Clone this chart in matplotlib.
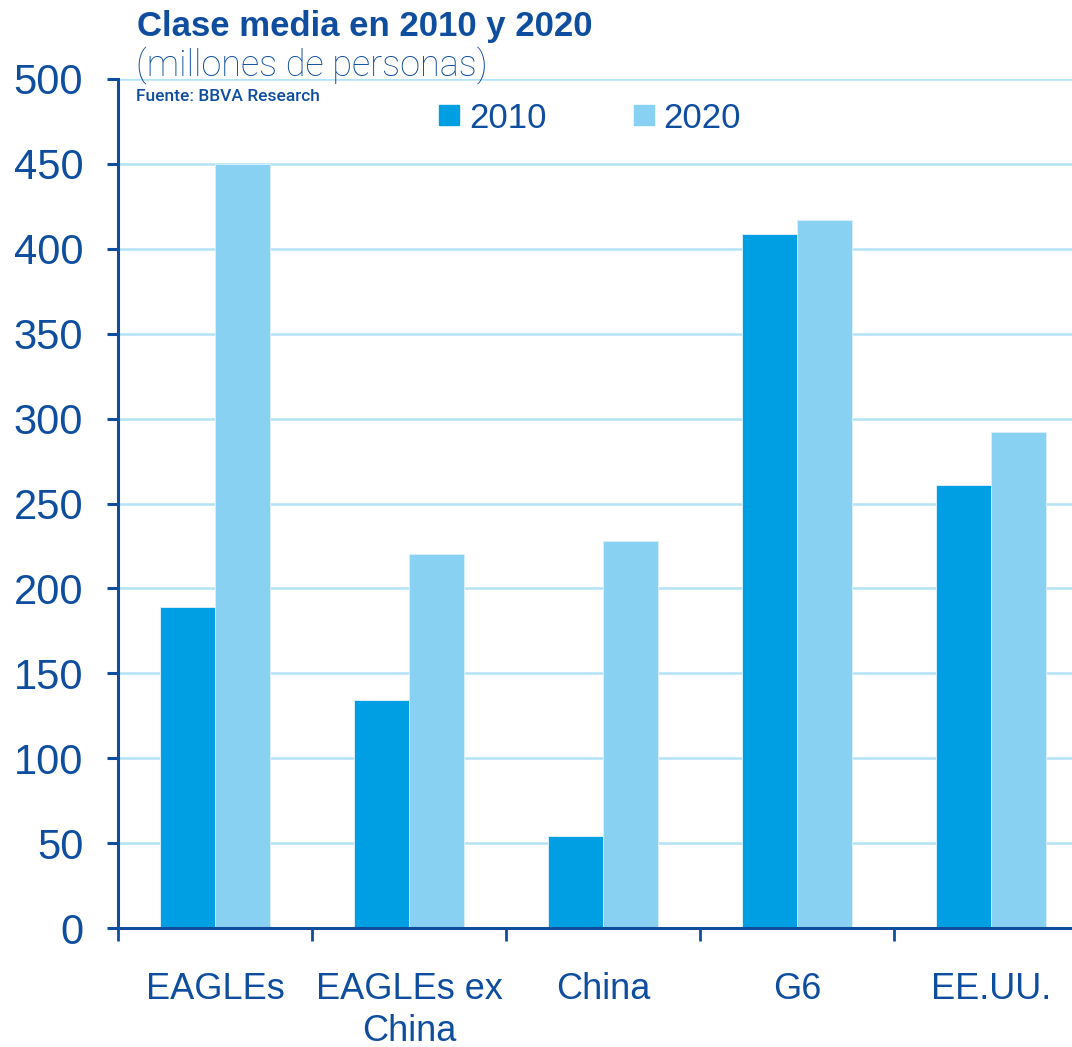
import matplotlib
matplotlib.use("Agg")
import matplotlib.pyplot as plt
from matplotlib.patches import Rectangle
from matplotlib.ticker import FixedLocator
import numpy as np

# Data: middle class, millions of people
categories = ["EAGLEs", "EAGLEs ex\nChina", "China", "G6", "EE.UU."]
values_2010 = [189, 134, 54, 409, 261]
values_2020 = [450, 220, 228, 417, 292]
series_labels = ["2010", "2020"]
y_ticks = [0, 50, 100, 150, 200, 250, 300, 350, 400, 450, 500]

W, H = 1072, 1047
DARK = "#0f4e9f"
C2010 = "#009fe3"
C2020 = "#89d1f2"
GRID = "#b3e3f7"

plt.rcParams["font.family"] = ["Liberation Sans", "DejaVu Sans"]

fig = plt.figure(figsize=(W / 100, H / 100), dpi=100)
fig.patch.set_facecolor("white")


def fx(x):
    return x / W


def fy(y):
    return 1 - y / H


ax = fig.add_axes([fx(118), fy(928), 970 / W, 849 / H])

x = np.arange(len(categories))
bw = 0.283
ax.bar(x - bw / 2, values_2010, bw, color=C2010, edgecolor="#d6effb",
       linewidth=0.7, zorder=3)
ax.bar(x + bw / 2, values_2020, bw, color=C2020, edgecolor="#d6effb",
       linewidth=0.7, zorder=3)

ax.set_xlim(-0.5, len(categories) - 0.5)
ax.set_ylim(0, 500)

# y axis
ax.set_yticks(y_ticks)
ax.set_yticklabels([str(v) for v in y_ticks], fontsize=30, color=DARK)
ax.tick_params(axis="y", direction="out", length=8, width=2.2, color=DARK,
               pad=17)
ax.yaxis.grid(True, color=GRID, linewidth=1.8, zorder=0)
ax.set_axisbelow(True)

# x axis: ticks on category boundaries, labels at centres
ax.xaxis.set_major_locator(FixedLocator(np.arange(-0.5, len(categories), 1.0)))
ax.xaxis.set_minor_locator(FixedLocator(x))
ax.set_xticklabels([], minor=False)
ax.set_xticklabels(categories, minor=True, fontsize=26, color=DARK,
                   linespacing=1.24)
ax.tick_params(axis="x", which="major", direction="out", length=9.4,
               width=2, color=DARK)
ax.tick_params(axis="x", which="minor", length=0, pad=32)

for side in ("top", "right"):
    ax.spines[side].set_visible(False)
for side in ("left", "bottom"):
    ax.spines[side].set_color(DARK)
    ax.spines[side].set_linewidth(2.2)
    ax.spines[side].set_zorder(5)

# Headings
fig.text(fx(137), fy(36), "Clase media en 2010 y 2020", fontsize=25,
         fontweight="bold", color=DARK, va="baseline", ha="left",
         family=["Liberation Sans Narrow", "Liberation Sans", "DejaVu Sans"])
fig.text(fx(136), fy(75), "(millones de personas)", fontsize=26,
         fontweight="light", color=DARK, va="baseline", ha="left",
         family=["Roboto", "DejaVu Sans"])
fig.text(fx(136), fy(101), "Fuente: BBVA Research", fontsize=12.5,
         fontweight="medium", color=DARK, va="baseline", ha="left",
         family=["Roboto", "DejaVu Sans"])

# Legend
for (sx, tx), col, lab in zip([(439, 469), (634, 663)], [C2010, C2020],
                              series_labels):
    fig.patches.append(Rectangle((fx(sx), fy(125)), 20 / W, 20 / H,
                                 transform=fig.transFigure, color=col))
    fig.text(fx(tx), fy(128), lab, fontsize=25, color=DARK,
             va="baseline", ha="left")

fig.savefig("out.png", dpi=100, facecolor="white")
